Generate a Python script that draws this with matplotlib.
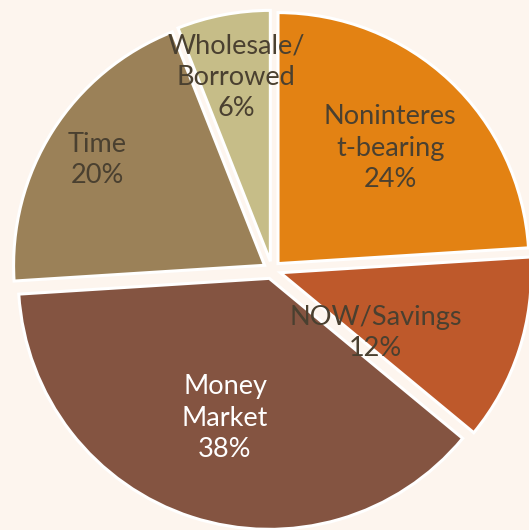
import matplotlib.pyplot as plt
import numpy as np

# deposit mix
labels = ["Noninteres\nt-bearing", "NOW/Savings", "Money\nMarket", "Time", "Wholesale/\nBorrowed"]
shares = [24, 12, 38, 20, 6]
colors = ["#E38213", "#BE592B", "#845441", "#9B8158", "#C6BD88"]
text_colors = ["#4A4030", "#4A4030", "#FFFFFF", "#4A4030", "#4A4030"]

# label placement (radius as fraction of pie radius, angle tweak in degrees)
label_r = [0.676, 0.484, 0.619, 0.823, 0.782]
label_dang = [-0.9, -13.2, 0.4, 0.3, -0.3]

bg = "#FDF5EE"
fig = plt.figure(figsize=(5.29, 5.30), dpi=100, facecolor=bg)
ax = fig.add_axes([0, 0, 1, 1])
ax.set_facecolor(bg)

wedges, _ = ax.pie(shares, colors=colors, startangle=90, counterclock=False,
                   explode=[0.035] * len(shares),
                   wedgeprops=dict(edgecolor="white", linewidth=2.2))

for w, lab, pct, r, da, tc in zip(wedges, labels, shares, label_r, label_dang, text_colors):
    mid = np.deg2rad((w.theta1 + w.theta2) / 2 + da)
    ax.text(r * np.cos(mid), r * np.sin(mid), f"{lab}\n{pct}%", ha="center", va="center",
            fontsize=19.5, family="Lato", color=tc, linespacing=1.32)

# pie centre sits at about (272, 270) px from top-left, radius ~251 px
ax.set_aspect("auto")
ax.set_xlim(-272 / 251, (529 - 272) / 251)
ax.set_ylim(-(530 - 270) / 251, 270 / 251)
ax.axis("off")

fig.savefig("out.png", dpi=100, facecolor=bg)
